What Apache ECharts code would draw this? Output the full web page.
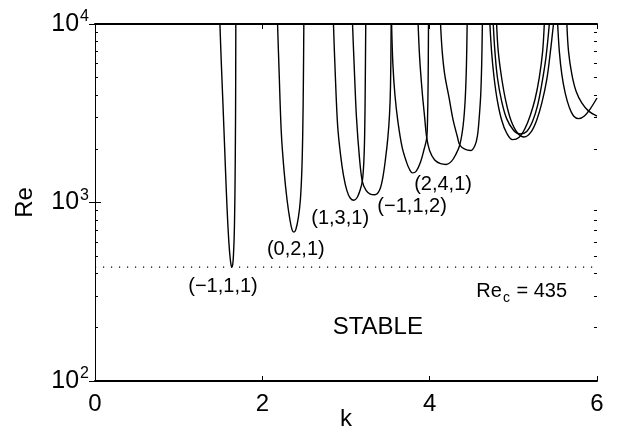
<!DOCTYPE html>
<html>
<head>
<meta charset="utf-8">
<script src="https://cdn.jsdelivr.net/npm/echarts@6/dist/echarts.min.js"></script>
<style>
  html, body { margin: 0; padding: 0; background: #fff; }
  #chart { width: 629px; height: 431px; }
</style>
</head>
<body>
<div id="chart"></div>
<script>
// neutral stability curves, [k, Re]
const curveM111 = [[1.493,10000],[1.51,6000],[1.53,3500],[1.55,2000],[1.57,1150],[1.585,800],[1.60,600],[1.615,490],[1.627,445],[1.636,435],[1.646,448],[1.655,510],[1.663,630],[1.669,850],[1.674,1300],[1.678,2200],[1.681,4000],[1.683,10000]];
const curve021 = [[2.182,10000],[2.20,5500],[2.227,2450],[2.26,1500],[2.295,1040],[2.33,800],[2.355,705],[2.377,682],[2.40,705],[2.43,820],[2.455,1040],[2.472,1500],[2.483,2450],[2.491,5000],[2.496,10000]];
const curve131 = [[2.85,10000],[2.87,5500],[2.90,2700],[2.935,1850],[2.97,1420],[3.01,1170],[3.05,1060],[3.095,1030],[3.135,1070],[3.17,1180],[3.195,1315],[3.212,1650],[3.223,2400],[3.23,4500],[3.236,10000]];
const curveM112 = [[3.078,10000],[3.10,5500],[3.125,3000],[3.16,1800],[3.195,1315],[3.24,1170],[3.29,1115],[3.345,1105],[3.40,1170],[3.44,1380],[3.475,1800],[3.50,2300],[3.52,3100],[3.532,4500],[3.54,10000]];
const curve241 = [[3.545,10000],[3.56,6000],[3.585,4000],[3.62,2850],[3.67,2050],[3.72,1700],[3.76,1530],[3.795,1466],[3.84,1500],[3.89,1680],[3.935,2000],[3.965,2300],[3.976,3200],[3.982,5000],[3.986,10000]];
const curve6 = [[3.862,10000],[3.88,6500],[3.91,4200],[3.94,3000],[3.965,2300],[4.00,1950],[4.06,1730],[4.13,1650],[4.20,1634],[4.26,1700],[4.31,1850],[4.36,2100],[4.40,2700],[4.425,3800],[4.44,6000],[4.448,10000]];
const curve7 = [[4.13,10000],[4.15,7000],[4.18,5200],[4.23,3900],[4.28,2900],[4.33,2350],[4.36,2100],[4.42,1990],[4.49,1955],[4.54,2080],[4.57,2350],[4.59,2900],[4.61,4000],[4.622,6000],[4.63,10000]];
const curve8 = [[4.72,10000],[4.74,7000],[4.77,5000],[4.81,3700],[4.86,2900],[4.92,2450],[4.99,2250],[5.07,2320],[5.14,2600],[5.20,3050],[5.26,3800],[5.31,5000],[5.35,7000],[5.37,10000]];
const curve9 = [[4.76,10000],[4.78,7000],[4.81,5000],[4.86,3700],[4.92,2950],[5.00,2550],[5.08,2420],[5.16,2500],[5.23,2850],[5.29,3500],[5.34,4600],[5.39,6500],[5.43,10000]];
const curve10 = [[4.80,10000],[4.82,7000],[4.86,5000],[4.91,3700],[4.97,2900],[5.05,2450],[5.13,2330],[5.21,2480],[5.28,2900],[5.34,3600],[5.40,4900],[5.44,6800],[5.48,10000]];
const curve11 = [[5.53,10000],[5.55,7000],[5.58,5200],[5.62,4100],[5.67,3400],[5.72,3050],[5.78,2950],[5.85,3050],[5.92,3350],[6.0,3850]];
const curve12 = [[5.64,10000],[5.66,7000],[5.70,5200],[5.75,4200],[5.82,3600],[5.90,3250],[6.0,3050]];

const curves = [curveM111, curve021, curve131, curveM112, curve241, curve6, curve7, curve8, curve9, curve10, curve11, curve12];

const reCritical = 435;
const kRange = [0, 6];

const xTicks = [0, 2, 4, 6];
const yTicks = [100, 1000, 10000];
const yMinorTicks = [200, 300, 400, 500, 600, 700, 800, 900, 2000, 3000, 4000, 5000, 6000, 7000, 8000, 9000];

// mode labels and their positions
const modeNames = ['(\u22121,1,1)', '(0,2,1)', '(1,3,1)', '(\u22121,1,2)', '(2,4,1)'];
const modeK = [1.53, 2.40, 2.93, 3.79, 4.16];
const modeRe = [339, 546, 815, 944, 1265];

const critLabelPos = [5.10, 316];
const stableLabelPos = [3.38, 200];

const FONT = '"Liberation Sans", Arial, Helvetica, sans-serif';

const chart = echarts.init(document.getElementById('chart'), null, { renderer: 'canvas' });

const curveSeries = curves.map(c => ({
  type: 'line',
  data: c,
  xAxisIndex: 0,
  yAxisIndex: 0,
  showSymbol: false,
  symbol: 'none',
  smooth: 0.35,
  lineStyle: { color: '#000', width: 1.4 },
  silent: true,
  z: 3
}));

const textItem = (k, re, txt) => ({ value: [k, re], name: txt });

// invisible points that only carry a text label
const textSeries = (data, fontSize, formatter, rich) => ({
  type: 'scatter',
  symbolSize: 1,
  itemStyle: { color: 'rgba(0,0,0,0)', opacity: 1 },
  silent: true,
  z: 4,
  label: {
    show: true, position: 'inside', color: '#000', opacity: 1,
    textBorderWidth: 0, fontSize: fontSize, fontFamily: FONT,
    formatter: formatter, rich: rich
  },
  data: data
});

const option = {
  animation: false,
  backgroundColor: '#fff',
  grid: { left: 95, right: 32, top: 24, bottom: 50, outerBoundsMode: 'none' },
  xAxis: [
    {
      type: 'value', position: 'bottom', min: kRange[0], max: kRange[1], interval: 2,
      name: 'k', nameLocation: 'middle', nameGap: 26, nameMoveOverlap: false,
      nameTextStyle: { fontSize: 24, fontFamily: FONT, color: '#000' },
      axisLine: { lineStyle: { color: '#000', width: 2 } },
      axisTick: { inside: true, length: 5, lineStyle: { color: '#000', width: 1 }, customValues: xTicks },
      axisLabel: { fontSize: 24, fontFamily: FONT, color: '#000', margin: 11, customValues: xTicks },
      splitLine: { show: false }
    },
    {
      type: 'value', position: 'top', min: kRange[0], max: kRange[1], interval: 2,
      axisLine: { lineStyle: { color: '#000', width: 2 } },
      axisTick: { inside: true, length: 5, lineStyle: { color: '#000', width: 1 }, customValues: xTicks },
      axisLabel: { show: false },
      splitLine: { show: false }
    }
  ],
  yAxis: [
    {
      type: 'log', logBase: 10, position: 'left', min: 100, max: 10000,
      name: 'Re', nameLocation: 'middle', nameGap: 58, nameMoveOverlap: false,
      nameTextStyle: { fontSize: 24, fontFamily: FONT, color: '#000' },
      axisLine: { lineStyle: { color: '#000', width: 1 } },
      axisTick: { inside: true, length: 6, lineStyle: { color: '#000' }, customValues: yTicks },
      axisLabel: {
        customValues: yTicks,
        fontSize: 25, fontFamily: FONT, color: '#000', margin: 6,
        formatter: v => '10{sup|' + Math.round(Math.log10(v)) + '}',
        rich: { sup: { fontSize: 16, fontFamily: FONT, color: '#000', padding: [0, 0, 14, 1] } }
      },
      splitLine: { show: false }
    },
    {
      type: 'log', logBase: 10, position: 'right', min: 100, max: 10000,
      axisLine: { lineStyle: { color: '#000', width: 1 } },
      axisTick: { inside: true, length: 6, lineStyle: { color: '#000' }, customValues: yTicks },
      axisLabel: { show: false },
      splitLine: { show: false }
    },
    {
      type: 'log', logBase: 10, position: 'left', min: 100, max: 10000,
      axisLine: { show: false },
      axisTick: { inside: true, length: 3, lineStyle: { color: '#000' }, customValues: yMinorTicks },
      axisLabel: { show: false },
      splitLine: { show: false }
    },
    {
      type: 'log', logBase: 10, position: 'right', min: 100, max: 10000,
      axisLine: { show: false },
      axisTick: { inside: true, length: 3, lineStyle: { color: '#000' }, customValues: yMinorTicks },
      axisLabel: { show: false },
      splitLine: { show: false }
    }
  ],
  series: [
    ...curveSeries,
    {
      // critical Reynolds number
      type: 'line',
      data: [[kRange[0], reCritical], [kRange[1], reCritical]],
      showSymbol: false,
      symbol: 'none',
      lineStyle: { color: '#000', width: 1.2, type: [1.2, 6.8] },
      silent: true,
      z: 2
    },
    textSeries(modeNames.map((n, i) => textItem(modeK[i], modeRe[i], n)), 20, p => p.data.name),
    textSeries([textItem(critLabelPos[0], critLabelPos[1], 'crit')], 20, 'Re{sub|c} = ' + reCritical,
      { sub: { fontSize: 14, fontFamily: FONT, color: '#000', padding: [12, 1, 0, 1] } }),
    textSeries([textItem(stableLabelPos[0], stableLabelPos[1], 'STABLE')], 24, 'STABLE')
  ]
};

chart.setOption(option);
</script>
</body>
</html>
